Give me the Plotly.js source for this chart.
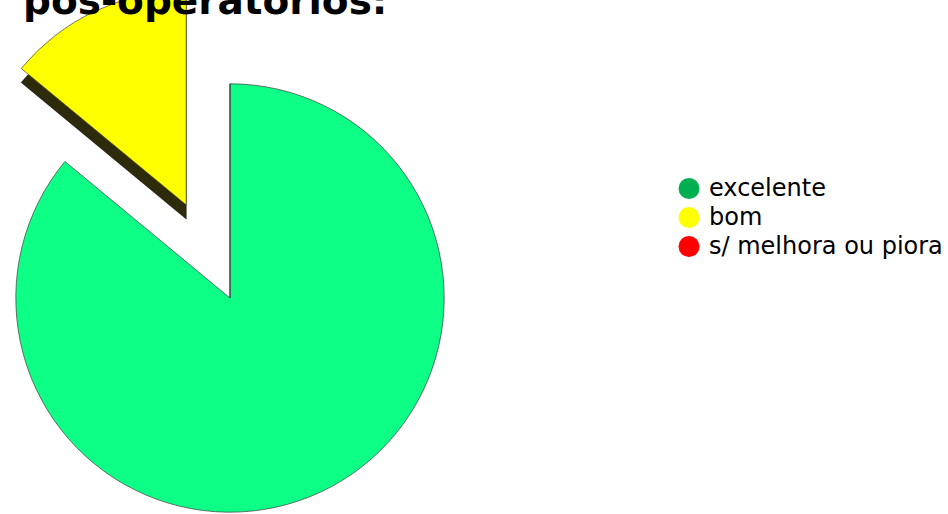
<!DOCTYPE html>
<html>
<head>
<meta charset="utf-8">
<script src="https://cdn.plot.ly/plotly-3.0.1.min.js"></script>
<style>
  html, body { margin: 0; padding: 0; width: 948px; height: 514px; overflow: hidden; background: #fff; }
  #chart { position: absolute; left: -87px; top: -19px; width: 1035px; height: 648px; }
</style>
</head>
<body>
<div id="chart"></div>
<script>
// Data
const categories = ['excelente', 'bom', 's/ melhora ou piora'];
const values = [86, 14, 0];
const pulls = [0, 0.48, 0];
const sliceColors = ['#0DFF86', '#FFFF00', '#FF2020'];
const sideColors = ['rgba(0,0,0,0)', '#2E2B0C', 'rgba(0,0,0,0)'];
const sideLines = ['rgba(0,0,0,0)', 'rgba(0,0,0,0.5)', 'rgba(0,0,0,0)'];
const legendColors = ['#00B050', '#FFFF00', '#FF0000'];
const titleText = 'pós-operatórios:';

const W = 1035, H = 648, BOX = 634, DEPTH = 14;
const xDom = [0, BOX / W];

const shadowPie = {
  type: 'pie', labels: categories, values: values, pull: pulls,
  sort: false, direction: 'clockwise', rotation: 0,
  marker: { colors: sideColors, line: { color: sideLines, width: 1 } },
  textinfo: 'none', hoverinfo: 'skip', showlegend: false,
  domain: { x: xDom, y: [0, BOX / H] }
};
const mainPie = {
  type: 'pie', labels: categories, values: values, pull: pulls,
  sort: false, direction: 'clockwise', rotation: 0,
  marker: { colors: sliceColors, line: { color: 'rgba(60,60,60,0.7)', width: 1 } },
  textinfo: 'none', showlegend: false,
  domain: { x: xDom, y: [DEPTH / H, 1] }
};
const legendTraces = categories.map((c, i) => ({
  type: 'scatter', mode: 'markers', x: [null], y: [null],
  name: '<span style="font-size:24px">' + c + '</span>',
  marker: { color: legendColors[i], size: 16, symbol: 'circle',
            line: { color: legendColors[i], width: 5 } },
  showlegend: true, hoverinfo: 'skip'
}));

const layout = {
  width: W, height: H,
  margin: { l: 0, r: 0, t: 0, b: 0 },
  paper_bgcolor: '#ffffff', plot_bgcolor: 'rgba(0,0,0,0)',
  xaxis: { visible: false }, yaxis: { visible: false },
  title: {
    text: titleText,
    font: { family: 'DejaVu Sans', size: 39, weight: 'bold', color: '#000' },
    x: 110 / W, xanchor: 'left', xref: 'container',
    y: 1 - 19 / H, yanchor: 'middle', yref: 'container'
  },
  showlegend: true,
  legend: {
    x: 756 / W, xanchor: 'left', y: 1 - 188 / H, yanchor: 'top',
    font: { family: 'DejaVu Sans', size: 20, color: '#000' },
    bgcolor: 'rgba(0,0,0,0)', borderwidth: 0, tracegroupgap: 0,
    itemclick: false
  }
};

Plotly.newPlot('chart', [shadowPie, mainPie, ...legendTraces], layout, { displayModeBar: false, staticPlot: true });
</script>
</body>
</html>
